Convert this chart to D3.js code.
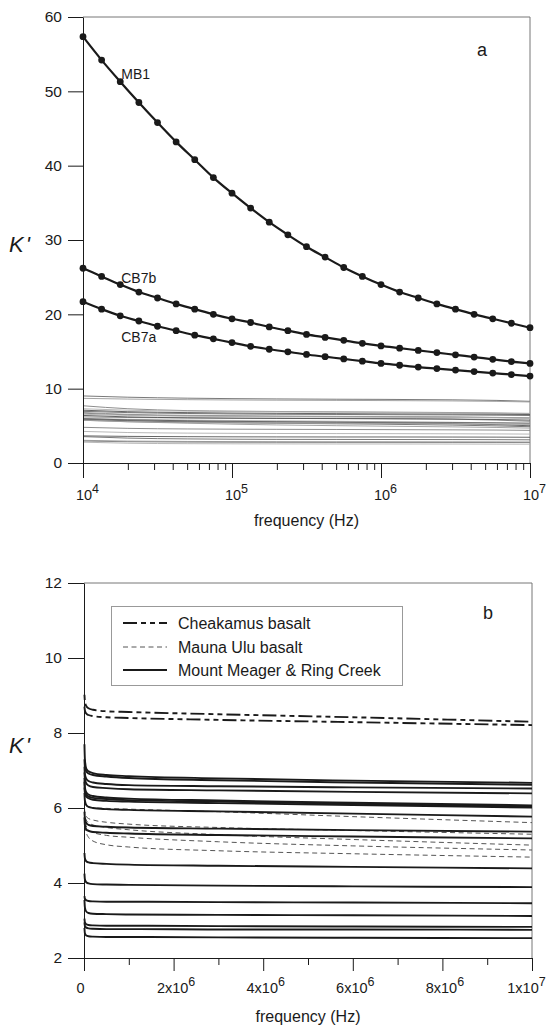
<!DOCTYPE html>
<html>
<head>
<meta charset="utf-8">
<script src="https://cdn.jsdelivr.net/npm/d3@7"></script>
<style>
  body { margin: 0; background: #fff; }
  svg { display: block; font-family: "Liberation Sans", Arial, sans-serif; }
</style>
</head>
<body>
<svg id="chart" width="548" height="1028"></svg>
<script>
// ---- panel a: dotted curves (log10 of frequency, 8 points per decade)
const expA = [4, 4.125, 4.25, 4.375, 4.5, 4.625, 4.75, 4.875, 5, 5.125, 5.25, 5.375, 5.5,
              5.625, 5.75, 5.875, 6, 6.125, 6.25, 6.375, 6.5, 6.625, 6.75, 6.875, 7];
const mb1  = [57.35, 54.2, 51.3, 48.5, 45.8, 43.2, 40.8, 38.4, 36.3, 34.3, 32.4, 30.7, 29.1,
              27.7, 26.3, 25.1, 24.0, 23.0, 22.2, 21.4, 20.7, 20.0, 19.4, 18.8, 18.2];
const cb7b = [26.2, 25.1, 24.0, 23.0, 22.2, 21.4, 20.7, 20.0, 19.4, 18.9, 18.3, 17.8, 17.3,
              16.9, 16.5, 16.1, 15.75, 15.45, 15.15, 14.85, 14.55, 14.25, 13.95, 13.65, 13.4];
const cb7a = [21.7, 20.7, 19.8, 19.1, 18.4, 17.8, 17.2, 16.7, 16.2, 15.7, 15.3, 14.95, 14.6,
              14.3, 14.0, 13.7, 13.4, 13.15, 12.9, 12.7, 12.5, 12.3, 12.1, 11.9, 11.7];
const curveNames = ["MB1", "CB7b", "CB7a"];

// ---- sample curves (shown grey in a, full in b), frequency in Hz
const freqB = [1e4, 2e4, 5e4, 1e5, 2e5, 5e5, 1e6, 3e6, 6e6, 1e7];
const cheakamus = [
  [9.02, 8.85, 8.72, 8.66, 8.62, 8.58, 8.56, 8.50, 8.42, 8.30],
  [8.70, 8.60, 8.52, 8.48, 8.45, 8.42, 8.40, 8.35, 8.29, 8.21]
];
const maunaUlu = [
  [6.20, 6.12, 6.06, 6.03, 6.01, 5.99, 5.97, 5.90, 5.77, 5.61],
  [6.00, 5.88, 5.78, 5.72, 5.68, 5.62, 5.57, 5.48, 5.40, 5.30],
  [5.95, 5.80, 5.68, 5.61, 5.55, 5.48, 5.42, 5.29, 5.16, 5.01],
  [5.85, 5.68, 5.52, 5.42, 5.35, 5.27, 5.22, 5.10, 4.99, 4.88],
  [5.75, 5.55, 5.35, 5.22, 5.12, 5.02, 4.96, 4.86, 4.78, 4.69]
];
const meager = [
  [7.70, 7.30, 7.05, 6.98, 6.93, 6.88, 6.85, 6.79, 6.73, 6.67],
  [7.30, 7.10, 6.98, 6.92, 6.88, 6.84, 6.80, 6.74, 6.68, 6.62],
  [7.10, 6.90, 6.78, 6.72, 6.68, 6.64, 6.61, 6.58, 6.55, 6.52],
  [6.95, 6.78, 6.66, 6.60, 6.56, 6.53, 6.50, 6.47, 6.43, 6.39],
  [6.80, 6.55, 6.42, 6.36, 6.32, 6.28, 6.25, 6.20, 6.14, 6.07],
  [6.70, 6.48, 6.36, 6.31, 6.27, 6.24, 6.21, 6.17, 6.11, 6.04],
  [6.55, 6.40, 6.30, 6.26, 6.22, 6.19, 6.17, 6.13, 6.08, 6.01],
  [6.40, 6.20, 6.08, 6.03, 6.00, 5.97, 5.95, 5.91, 5.85, 5.77],
  [5.90, 5.72, 5.60, 5.55, 5.52, 5.50, 5.48, 5.45, 5.41, 5.37],
  [5.75, 5.55, 5.43, 5.39, 5.36, 5.34, 5.32, 5.28, 5.24, 5.19],
  [4.80, 4.66, 4.58, 4.55, 4.53, 4.51, 4.49, 4.46, 4.43, 4.39],
  [4.25, 4.10, 4.02, 3.99, 3.97, 3.96, 3.95, 3.93, 3.91, 3.89],
  [3.65, 3.58, 3.54, 3.52, 3.51, 3.50, 3.50, 3.49, 3.48, 3.46],
  [3.55, 3.35, 3.24, 3.20, 3.18, 3.17, 3.16, 3.15, 3.14, 3.12],
  [3.05, 2.95, 2.90, 2.88, 2.87, 2.86, 2.86, 2.85, 2.84, 2.83],
  [2.95, 2.86, 2.81, 2.79, 2.78, 2.77, 2.77, 2.76, 2.76, 2.75],
  [2.80, 2.66, 2.60, 2.58, 2.57, 2.56, 2.56, 2.55, 2.54, 2.53]
];
const legendNames = ["Cheakamus basalt", "Mauna Ulu basalt", "Mount Meager & Ring Creek"];

// ---- ticks and labels
const yTicksA = [0, 10, 20, 30, 40, 50, 60];
const xTicksA = [1e4, 1e5, 1e6, 1e7];
const xExpA = ["4", "5", "6", "7"];
const yTicksB = [2, 4, 6, 8, 10, 12];
const xTicksB = [0, 2e6, 4e6, 6e6, 8e6, 1e7];
const xMinorB = [1e6, 3e6, 5e6, 7e6, 9e6];
const xMantB = ["0", "2x10", "4x10", "6x10", "8x10", "1x10"];
const xExpB = ["", "6", "6", "6", "6", "7"];

const svg = d3.select("#chart");
const ink = "#1a1a1a";
const dashCheak = "14,4,5,4,5,4";
const dashMauna = "5,3.5";

// ===================== panel a =====================
const xA = d3.scaleLog().domain([1e4, 1e7]).range([83, 530]);
const yA = d3.scaleLinear().domain([0, 60]).range([463, 17]);

// frame
svg.append("path")
  .attr("d", `M${xA(1e4)},${yA(60)}H${xA(1e7)}V${yA(0)}`)
  .attr("fill", "none").attr("stroke", "#777").attr("stroke-width", 1);

// grey sample curves
const greys = ["#6a6a6a", "#9a9a9a", "#808080", "#b0b0b0", "#555"];
const lineA = d3.line().x((d, i) => xA(freqB[i])).y(d => yA(d)).curve(d3.curveMonotoneX);
const allSamples = cheakamus.concat(maunaUlu, meager);
svg.append("g").selectAll("path")
  .data(allSamples)
  .join("path")
  .attr("d", lineA)
  .attr("fill", "none")
  .attr("stroke", (d, i) => greys[i % greys.length])
  .attr("stroke-width", 0.9);

// dotted curves
const dotLine = d3.line().x((d, i) => xA(10 ** expA[i])).y(d => yA(d)).curve(d3.curveMonotoneX);
[mb1, cb7b, cb7a].forEach(series => {
  svg.append("path").attr("d", dotLine(series))
    .attr("fill", "none").attr("stroke", ink).attr("stroke-width", 2.2);
  svg.append("g").selectAll("circle")
    .data(series)
    .join("circle")
    .attr("cx", (d, i) => xA(10 ** expA[i]))
    .attr("cy", d => yA(d))
    .attr("r", 3.4)
    .attr("fill", ink);
});

// curve labels
const labelPos = [[2, 79], [2, 283], [2, 342]];
curveNames.forEach((name, k) => {
  svg.append("text")
    .attr("x", xA(10 ** expA[labelPos[k][0]]) + 1)
    .attr("y", labelPos[k][1])
    .attr("font-size", 14).attr("fill", ink)
    .text(name);
});

// axes a
function styleAxis(g) {
  g.attr("font-family", null);
  g.selectAll("line, path").attr("stroke", ink);
  g.selectAll("text").attr("fill", ink);
}
svg.append("g")
  .attr("transform", `translate(${xA(1e4)},0)`)
  .call(d3.axisLeft(yA).tickValues(yTicksA).tickSize(15).tickPadding(6).tickSizeOuter(0))
  .call(styleAxis)
  .attr("font-size", 15.5);

svg.append("g")
  .attr("transform", `translate(0,${yA(0)})`)
  .call(d3.axisBottom(xA).tickValues(xA.ticks().filter(t => !xTicksA.includes(t)))
    .tickSize(7).tickFormat("").tickSizeOuter(0))
  .call(styleAxis)
  .call(g => g.select(".domain").remove());

svg.append("g")
  .attr("transform", `translate(0,${yA(0)})`)
  .call(d3.axisBottom(xA).tickValues(xTicksA).tickSize(15).tickFormat("").tickSizeOuter(0))
  .call(styleAxis)
  .call(g => g.selectAll(".tick").append("text")
    .attr("y", 37).attr("x", 4).attr("text-anchor", "middle").attr("fill", ink)
    .attr("font-size", 14.5)
    .each(function (d, i) {
      const t = d3.select(this);
      t.append("tspan").text("10");
      t.append("tspan").attr("dy", -7).attr("font-size", 12.5).text(xExpA[i]);
    }));

svg.append("text").attr("x", (xA.range()[0] + xA.range()[1]) / 2).attr("y", 526)
  .attr("text-anchor", "middle").attr("font-size", 16).attr("fill", ink)
  .text("frequency (Hz)");
svg.append("text").attr("x", 9).attr("y", 252)
  .attr("font-size", 22).attr("font-style", "italic").attr("fill", ink)
  .call(t => { t.append("tspan").text("K"); t.append("tspan").attr("dx", 2).text("'"); });
svg.append("text").attr("x", 477).attr("y", 56)
  .attr("font-size", 18).attr("fill", ink).text("a");

// ===================== panel b =====================
const xB = d3.scaleLinear().domain([0, 1e7]).range([84, 532]);
const yB = d3.scaleLinear().domain([2, 12]).range([958, 583]);

svg.append("path")
  .attr("d", `M${xB(0)},${yB(12)}H${xB(1e7)}V${yB(2)}`)
  .attr("fill", "none").attr("stroke", "#777").attr("stroke-width", 1);

const lineB = d3.line().x((d, i) => xB(freqB[i])).y(d => yB(d)).curve(d3.curveMonotoneX);

svg.append("g").selectAll("path")
  .data(maunaUlu)
  .join("path")
  .attr("d", lineB)
  .attr("fill", "none").attr("stroke", "#555").attr("stroke-width", 1)
  .attr("stroke-dasharray", dashMauna);

svg.append("g").selectAll("path")
  .data(meager)
  .join("path")
  .attr("d", lineB)
  .attr("fill", "none").attr("stroke", ink).attr("stroke-width", 1.9);

svg.append("g").selectAll("path")
  .data(cheakamus)
  .join("path")
  .attr("d", lineB)
  .attr("fill", "none").attr("stroke", ink).attr("stroke-width", 1.9)
  .attr("stroke-dasharray", (d, i) => i ? dashCheak : "5,4,14,4,5,4");

// legend
const legend = svg.append("g");
legend.append("rect").attr("x", 111.5).attr("y", 606.5).attr("width", 291).attr("height", 79)
  .attr("fill", "#fff").attr("stroke", "#999").attr("stroke-width", 1);
const legendStyles = [
  { dash: dashCheak, color: ink, w: 1.9 },
  { dash: dashMauna, color: "#555", w: 1 },
  { dash: null, color: ink, w: 1.9 }
];
const legendRows = [623, 647, 670];
legendNames.forEach((name, k) => {
  legend.append("line")
    .attr("x1", 123).attr("x2", 167).attr("y1", legendRows[k]).attr("y2", legendRows[k])
    .attr("stroke", legendStyles[k].color).attr("stroke-width", legendStyles[k].w)
    .attr("stroke-dasharray", legendStyles[k].dash);
  legend.append("text")
    .attr("x", 178).attr("y", legendRows[k] + 6)
    .attr("font-size", 16).attr("fill", ink).text(name);
});

// axes b
svg.append("g")
  .attr("transform", `translate(${xB(0)},0)`)
  .call(d3.axisLeft(yB).tickValues(yTicksB).tickSize(16).tickPadding(6).tickSizeOuter(0))
  .call(styleAxis)
  .attr("font-size", 15.5);

svg.append("g")
  .attr("transform", `translate(0,${yB(2)})`)
  .call(d3.axisBottom(xB).tickValues(xMinorB).tickSize(7).tickFormat("").tickSizeOuter(0))
  .call(styleAxis)
  .call(g => g.select(".domain").remove());

svg.append("g")
  .attr("transform", `translate(0,${yB(2)})`)
  .call(d3.axisBottom(xB).tickValues(xTicksB).tickSize(13).tickFormat("").tickSizeOuter(0))
  .call(styleAxis)
  .call(g => g.selectAll(".tick").append("text")
    .attr("y", 35)
    .attr("x", (d, i) => i === 0 ? -4 : (i === xTicksB.length - 1 ? -6 : 2))
    .attr("text-anchor", "middle").attr("fill", ink)
    .attr("font-size", 14.5)
    .each(function (d, i) {
      const t = d3.select(this);
      t.append("tspan").text(xMantB[i]);
      if (xExpB[i]) t.append("tspan").attr("dy", -7).attr("font-size", 12.5).text(xExpB[i]);
    }));

svg.append("text").attr("x", (xB.range()[0] + xB.range()[1]) / 2).attr("y", 1022)
  .attr("text-anchor", "middle").attr("font-size", 16).attr("fill", ink)
  .text("frequency (Hz)");
svg.append("text").attr("x", 9).attr("y", 753)
  .attr("font-size", 22).attr("font-style", "italic").attr("fill", ink)
  .call(t => { t.append("tspan").text("K"); t.append("tspan").attr("dx", 2).text("'"); });
svg.append("text").attr("x", 483).attr("y", 619)
  .attr("font-size", 18).attr("fill", ink).text("b");
</script>
</body>
</html>
